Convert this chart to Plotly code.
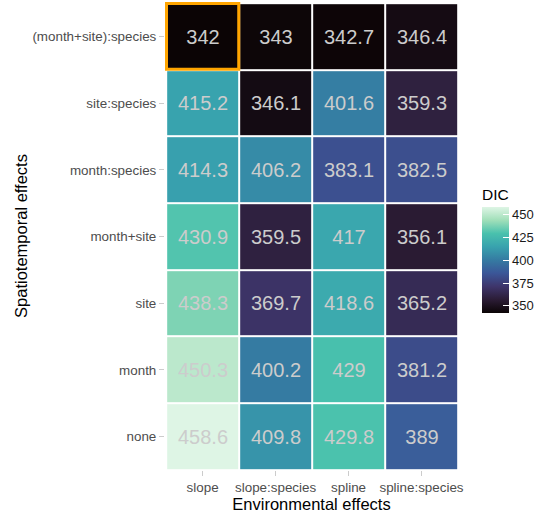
import plotly.graph_objects as go

env_effects = ["slope", "slope:species", "spline", "spline:species"]
spatio_effects = ["none", "month", "site", "month+site", "month:species", "site:species", "(month+site):species"]
# DIC values per spatiotemporal row (bottom to top), columns follow env_effects
dic_none = [458.6, 409.8, 429.8, 389]
dic_month = [450.3, 400.2, 429, 381.2]
dic_site = [438.3, 369.7, 418.6, 365.2]
dic_month_site = [430.9, 359.5, 417, 356.1]
dic_month_species = [414.3, 406.2, 383.1, 382.5]
dic_site_species = [415.2, 346.1, 401.6, 359.3]
dic_monthsite_species = [342, 343, 342.7, 346.4]
colorbar_ticks = [350, 375, 400, 425, 450]

z = [dic_none, dic_month, dic_site, dic_month_site, dic_month_species, dic_site_species, dic_monthsite_species]
text = [[f"{v:g}" for v in row] for row in z]

mako = [
    [0.0, "#0B0405"], [0.125, "#2B1C35"], [0.25, "#3E356B"], [0.375, "#3B5698"],
    [0.5, "#357BA2"], [0.625, "#38A2AE"], [0.75, "#49C1AD"], [0.875, "#A0DFB9"], [1.0, "#DEF5E5"],
]

FONT = "Liberation Sans, Arial, sans-serif"

fig = go.Figure()
fig.add_trace(go.Heatmap(
    x=env_effects, y=spatio_effects, z=z,
    text=text, texttemplate="%{text}",
    textfont=dict(size=20, color="#cccccc", family=FONT),
    colorscale=mako, xgap=2, ygap=2,
    colorbar=dict(
        title=dict(text="DIC", side="top", font=dict(size=15.5, color="#000000")),
        x=1.0819, xanchor="left", xpad=0, y=0.472, yanchor="middle", ypad=0,
        len=128, lenmode="pixels", thickness=27,
        tickvals=colorbar_ticks, ticks="inside", tickcolor="white", ticklen=6,
        tickfont=dict(size=13, color="#1a1a1a"), outlinewidth=0,
    ),
    hoverinfo="skip",
))

# highlight best cell
best_row = len(spatio_effects) - 1
fig.add_shape(type="rect", xref="x", yref="y",
              x0=-0.5 + 0.005, x1=0.5 - 0.005, y0=best_row - 0.5 + 0.01, y1=best_row + 0.5 - 0.005,
              line=dict(color="#FFA500", width=3))

fig.update_layout(
    width=540, height=518,
    margin=dict(l=165, r=82, t=2, b=48, autoexpand=False),
    plot_bgcolor="white", paper_bgcolor="white",
    font=dict(family=FONT, color="#4d4d4d", size=13.4),
    xaxis=dict(title=dict(text="Environmental effects", font=dict(size=16.5, color="#000000"), standoff=2),
               ticks="outside", ticklen=5, tickcolor="#cccccc", showgrid=False, zeroline=False,
               automargin=False, tickfont=dict(size=13.4, color="#4d4d4d")),
    yaxis=dict(title=dict(text="Spatiotemporal effects", font=dict(size=16.5, color="#000000"), standoff=0),
               ticks="outside", ticklen=5, tickcolor="#cccccc", showgrid=False, zeroline=False,
               automargin=False, tickfont=dict(size=13.4, color="#4d4d4d")),
)

fig.write_html("out.html", config={"displayModeBar": False},
               post_script="document.body.style.margin='0';")
